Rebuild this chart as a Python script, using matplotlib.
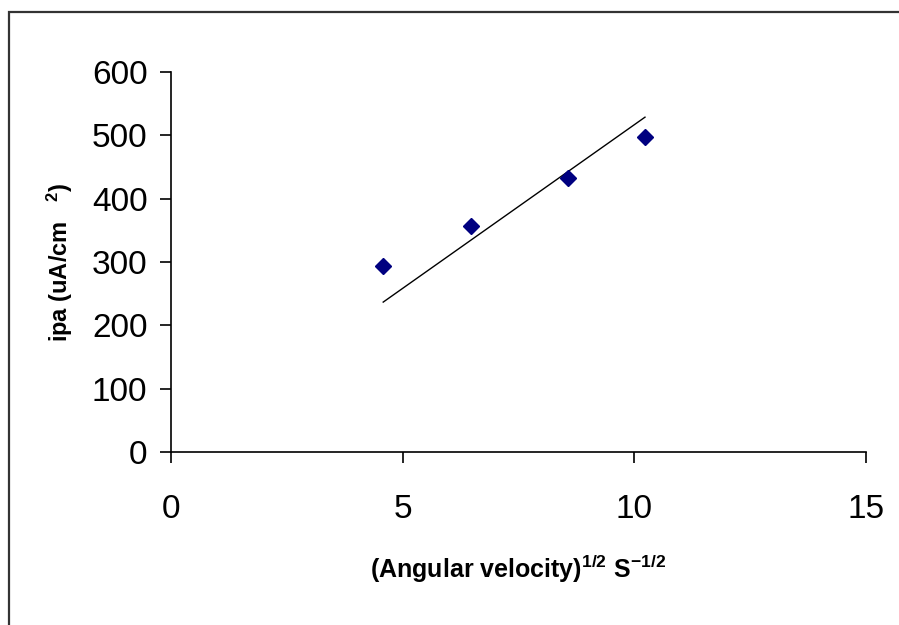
import numpy as np
import matplotlib
matplotlib.use('Agg')
import matplotlib.pyplot as plt
from matplotlib.patches import Rectangle

plt.rcParams['font.family'] = ['Liberation Sans', 'DejaVu Sans']
plt.rcParams['mathtext.default'] = 'regular'

# (angular velocity)^1/2 and peak current
sqrt_omega = [4.58, 6.47, 8.56, 10.23]
ipa = [293, 357, 433, 497]

x_ticks = [0, 5, 10, 15]
y_ticks = [0, 100, 200, 300, 400, 500, 600]

x = np.array(sqrt_omega)
y = np.array(ipa)

# trendline with intercept forced through zero
slope = np.sum(x * y) / np.sum(x * x)
x_fit = np.array([x.min(), x.max()])
y_fit = slope * x_fit

fig = plt.figure(figsize=(8.99, 6.25), dpi=100)
ax = fig.add_axes([171 / 899, 1 - 452 / 625, (866 - 171) / 899, (452 - 72) / 625])

ax.plot(x_fit, y_fit, color='black', lw=1.0)
ax.plot(x, y, linestyle='none', marker='D', markersize=8.5,
        color='#000080', markeredgecolor='#000080')

ax.set_xlim(0, 15)
ax.set_ylim(0, 600)
ax.set_xticks(x_ticks)
ax.set_yticks(y_ticks)
ax.tick_params(axis='both', direction='out', length=8, width=1.2,
               labelsize=24, color='black')
ax.tick_params(axis='y', pad=9)
ax.tick_params(axis='x', pad=22)

for side in ['top', 'right']:
    ax.spines[side].set_visible(False)
for side in ['left', 'bottom']:
    ax.spines[side].set_linewidth(1.2)

ax.set_xlabel(r'(Angular velocity)$^{1/2}$ S$^{-1/2}$', fontsize=18,
              fontweight='bold', labelpad=20)
ax.set_ylabel(r'ipa (uA/cm   $^{2}$)', fontsize=17, fontweight='bold',
              labelpad=12)

# outer chart border (cut off at right and bottom)
fig.patches.append(Rectangle((9 / 899, -0.1), 1.2, 1.1 - 12 / 625,
                             transform=fig.transFigure, fill=False,
                             edgecolor='#333333', lw=1.6))

fig.savefig('out.png', dpi=100)
